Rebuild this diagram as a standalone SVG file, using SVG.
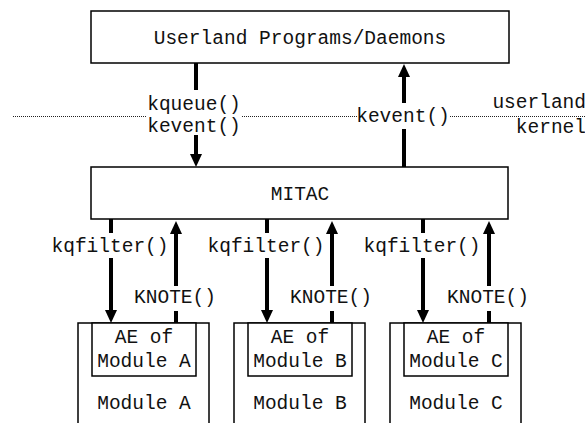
<svg xmlns="http://www.w3.org/2000/svg" width="585" height="423" viewBox="0 0 585 423">
<style>
.box{fill:#fff;stroke:#000;stroke-width:1.5}
.t{font-family:"Liberation Mono","Courier New",monospace;font-size:19.5px;fill:#111;text-anchor:middle}
.r{text-anchor:end}
.a{stroke:#000;stroke-width:4;fill:none}
.d{stroke:#222;stroke-width:1;stroke-dasharray:1 1;fill:none}
</style>
<defs>
<marker id="ah" markerUnits="userSpaceOnUse" markerWidth="14" markerHeight="13" refX="0" refY="6" orient="auto" viewBox="0 0 14 13">
<path d="M0,0 L13,6 L0,12 z" fill="#000"/>
</marker>
</defs>
<g id="boundary">
<line class="d" x1="13" y1="116.5" x2="147" y2="116.5"/>
<line class="d" x1="242" y1="116.5" x2="357" y2="116.5"/>
<line class="d" x1="450" y1="116.5" x2="585" y2="116.5"/>
<text class="t r" x="586" y="108">userland</text>
<text class="t r" x="586" y="133">kernel</text>
</g>
<g id="userland">
<rect class="box" x="91" y="11" width="418" height="52"/>
<text class="t" x="300" y="44">Userland Programs/Daemons</text>
</g>
<g id="mitac">
<rect class="box" x="91" y="167" width="417" height="52"/>
<text class="t" x="300" y="200">MITAC</text>
</g>
<g id="moduleA">
<rect class="box" x="78" y="323" width="131" height="120"/>
<rect class="box" x="92" y="323" width="104" height="53"/>
<text class="t" x="144" y="343">AE of</text>
<text class="t" x="144" y="367">Module A</text>
<text class="t" x="144" y="409">Module A</text>
</g>
<g id="moduleB">
<rect class="box" x="234" y="323" width="131" height="120"/>
<rect class="box" x="248" y="323" width="104" height="53"/>
<text class="t" x="300" y="343">AE of</text>
<text class="t" x="300" y="367">Module B</text>
<text class="t" x="300" y="409">Module B</text>
</g>
<g id="moduleC">
<rect class="box" x="390" y="323" width="131" height="120"/>
<rect class="box" x="404" y="323" width="104" height="53"/>
<text class="t" x="456" y="343">AE of</text>
<text class="t" x="456" y="367">Module C</text>
<text class="t" x="456" y="409">Module C</text>
</g>
<g id="connectors">
<line class="a" x1="196" y1="63" x2="196" y2="90"/>
<line class="a" x1="196" y1="135" x2="196" y2="154" marker-end="url(#ah)"/>
<text class="t" x="194" y="110">kqueue()</text>
<text class="t" x="194" y="132">kevent()</text>
<line class="a" x1="404" y1="167" x2="404" y2="129"/>
<line class="a" x1="404" y1="103" x2="404" y2="77" marker-end="url(#ah)"/>
<text class="t" x="403" y="122">kevent()</text>

<line class="a" x1="111" y1="219" x2="111" y2="233"/>
<line class="a" x1="111" y1="258" x2="111" y2="310" marker-end="url(#ah)"/>
<text class="t" x="110" y="252">kqfilter()</text>
<line class="a" x1="176" y1="323" x2="176" y2="311"/>
<line class="a" x1="176" y1="286" x2="176" y2="234" marker-end="url(#ah)"/>
<text class="t" x="175" y="303">KNOTE()</text>

<line class="a" x1="267" y1="219" x2="267" y2="233"/>
<line class="a" x1="267" y1="258" x2="267" y2="310" marker-end="url(#ah)"/>
<text class="t" x="266" y="252">kqfilter()</text>
<line class="a" x1="332" y1="323" x2="332" y2="311"/>
<line class="a" x1="332" y1="286" x2="332" y2="234" marker-end="url(#ah)"/>
<text class="t" x="331" y="303">KNOTE()</text>

<line class="a" x1="423" y1="219" x2="423" y2="233"/>
<line class="a" x1="423" y1="258" x2="423" y2="310" marker-end="url(#ah)"/>
<text class="t" x="422" y="252">kqfilter()</text>
<line class="a" x1="489" y1="323" x2="489" y2="311"/>
<line class="a" x1="489" y1="286" x2="489" y2="234" marker-end="url(#ah)"/>
<text class="t" x="488" y="303">KNOTE()</text>
</g>
</svg>
